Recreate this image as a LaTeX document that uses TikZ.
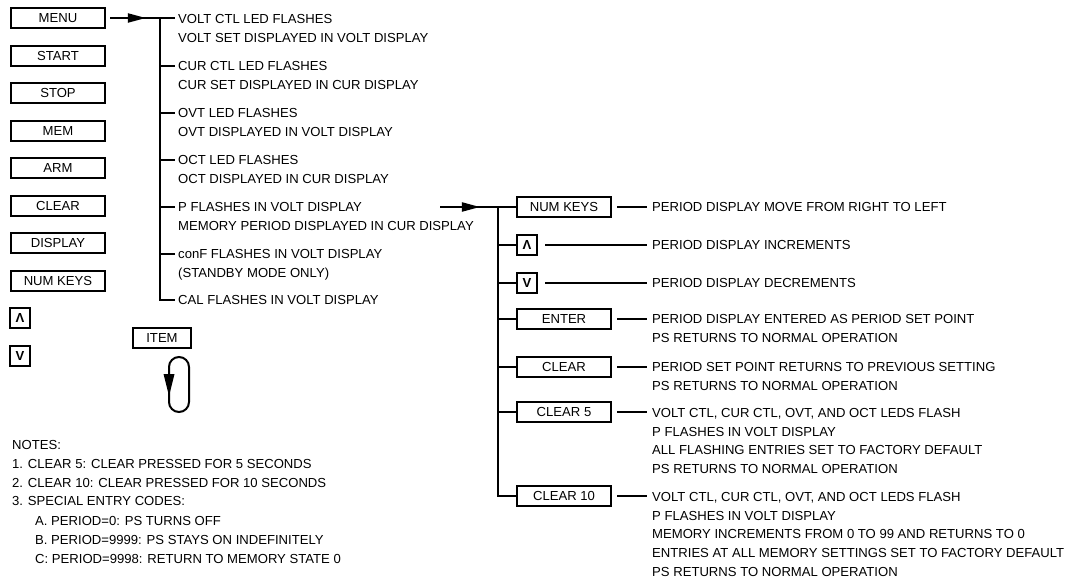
\documentclass[tikz,border=0pt]{standalone}
\usepackage{fontspec}
\setmainfont{Liberation Sans}
\usetikzlibrary{arrows.meta,decorations.markings}
\begin{document}
\begin{tikzpicture}[x=1pt,y=-1pt,
  every node/.style={font=\fontsize{13.1}{18.7}\selectfont},
  keybox/.style={draw,line width=2pt,minimum width=94pt,minimum height=20pt,inner sep=0pt,anchor=west},
  sqbox/.style={draw,line width=2pt,minimum width=20pt,minimum height=20pt,inner sep=0pt,anchor=west},
  txt/.style={anchor=north west,inner sep=0pt,align=left,yshift=8.4pt},
  ln/.style={line width=2pt,miter limit=10},
  midarrow/.style={postaction={decorate,decoration={markings,
     mark=at position #1 with {\arrow{Triangle[length=18pt,width=9pt]}}}}}]
\useasboundingbox (0,0) rectangle (1066,580);

% left key column
\node[keybox] (menu) at (10,18) {MENU};
\node[keybox] (start) at (10,56) {START};
\node[keybox] (stop) at (10,93) {STOP};
\node[keybox] (mem) at (10,131) {MEM};
\node[keybox] (arm) at (10,168) {ARM};
\node[keybox] (clr) at (10,206) {CLEAR};
\node[keybox] (disp) at (10,243) {DISPLAY};
\node[keybox] (numk) at (10,281) {NUM KEYS};
\node[sqbox] (up) at (9,318) {\textbf{Λ}};
\node[sqbox] (dn) at (9,356) {\textbf{V}};

% ITEM
\node[keybox,minimum width=58pt] (item) at (132,338) {ITEM};
\draw[ln,rounded corners=10pt] (169,357) rectangle (189,412);
\fill (163.5,374) -- (174.5,374) -- (169,396) -- cycle;

% menu tree
\coordinate (mt) at (160,18);
\coordinate (mb) at (160,300);
\draw[ln,midarrow=0.552] ([xshift=4pt]menu.east) -- (175,18);
\draw[ln] (mt) -- (mb) -- (175,300);
\foreach \yy in {66,113,160,207,254} \draw[ln] (160,\yy) -- (175,\yy);

\node[txt] (a1) at (178,19) {\strut VOLT CTL LED FLASHES\\VOLT SET DISPLAYED IN VOLT DISPLAY};
\node[txt] (a2) at (178,66) {\strut CUR CTL LED FLASHES\\CUR SET DISPLAYED IN CUR DISPLAY};
\node[txt] (a3) at (178,113) {\strut OVT LED FLASHES\\OVT DISPLAYED IN VOLT DISPLAY};
\node[txt] (a4) at (178,160) {\strut OCT LED FLASHES\\OCT DISPLAYED IN CUR DISPLAY};
\node[txt] (a5) at (178,207) {\strut P FLASHES IN VOLT DISPLAY\\MEMORY PERIOD DISPLAYED IN CUR DISPLAY};
\node[txt] (a6) at (178,254) {\strut conF FLASHES IN VOLT DISPLAY\\(STANDBY MODE ONLY)};
\node[txt] (a7) at (178,300) {\strut CAL FLASHES IN VOLT DISPLAY};

% period sub-tree
\coordinate (ps) at (440,207);
\coordinate (rt) at (498,207);
\coordinate (rb) at (498,496);
\node[keybox] (b1) at (516,207) {NUM KEYS};
\node[sqbox] (b2) at (516,245) {\textbf{Λ}};
\node[sqbox] (b3) at (516,283) {\textbf{V}};
\node[keybox] (b4) at (516,319) {ENTER};
\node[keybox] (b5) at (516,367) {CLEAR};
\node[keybox] (b6) at (516,412) {CLEAR 5};
\node[keybox] (b7) at (516,496) {CLEAR 10};

\draw[ln,midarrow=0.526] (ps) -- (b1.west);
\draw[ln] (rt) -- (rb) -- (b7.west);
\draw[ln] (498,245) -- (b2.west);
\draw[ln] (498,283) -- (b3.west);
\draw[ln] (498,319) -- (b4.west);
\draw[ln] (498,367) -- (b5.west);
\draw[ln] (498,412) -- (b6.west);

\node[txt] (c1) at (652,207) {\strut PERIOD DISPLAY MOVE FROM RIGHT TO LEFT};
\node[txt] (c2) at (652,245) {\strut PERIOD DISPLAY INCREMENTS};
\node[txt] (c3) at (652,283) {\strut PERIOD DISPLAY DECREMENTS};
\node[txt] (c4) at (652,319) {\strut PERIOD DISPLAY ENTERED AS PERIOD SET POINT\\PS RETURNS TO NORMAL OPERATION};
\node[txt] (c5) at (652,367) {\strut PERIOD SET POINT RETURNS TO PREVIOUS SETTING\\PS RETURNS TO NORMAL OPERATION};
\node[txt] (c6) at (652,412.5) {\strut VOLT CTL, CUR CTL, OVT, AND OCT LEDS FLASH\\P FLASHES IN VOLT DISPLAY\\ALL FLASHING ENTRIES SET TO FACTORY DEFAULT\\PS RETURNS TO NORMAL OPERATION};
\node[txt] (c7) at (652,496.5) {\strut VOLT CTL, CUR CTL, OVT, AND OCT LEDS FLASH\\P FLASHES IN VOLT DISPLAY\\MEMORY INCREMENTS FROM 0 TO 99 AND RETURNS TO 0\\ENTRIES AT ALL MEMORY SETTINGS SET TO FACTORY DEFAULT\\PS RETURNS TO NORMAL OPERATION};

\draw[ln] ([xshift=5pt]b1.east) -- (647,207);
\draw[ln] ([xshift=7pt]b2.east) -- (647,245);
\draw[ln] ([xshift=7pt]b3.east) -- (647,283);
\draw[ln] ([xshift=5pt]b4.east) -- (647,319);
\draw[ln] ([xshift=5pt]b5.east) -- (647,367);
\draw[ln] ([xshift=5pt]b6.east) -- (647,412);
\draw[ln] ([xshift=5pt]b7.east) -- (647,496);

% notes
\node[txt] (n0) at (12,445) {\strut NOTES:\\1. CLEAR 5: CLEAR PRESSED FOR 5 SECONDS\\2. CLEAR 10: CLEAR PRESSED FOR 10 SECONDS\\3. SPECIAL ENTRY CODES:};
\node[txt] (n1) at (35,521) {\strut A. PERIOD=0: PS TURNS OFF\\B. PERIOD=9999: PS STAYS ON INDEFINITELY\\C: PERIOD=9998: RETURN TO MEMORY STATE 0};
\end{tikzpicture}
\end{document}
